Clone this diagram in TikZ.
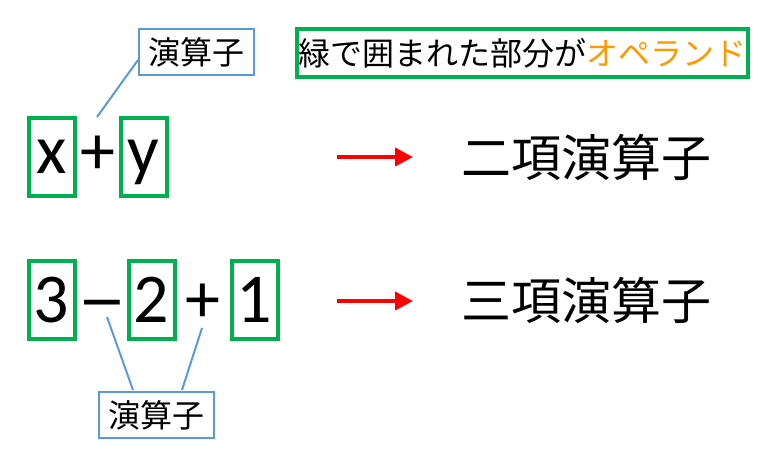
\documentclass[tikz,border=0pt]{standalone}
\usepackage{fontspec}
\setmainfont{Carlito}
\newfontfamily\jpfont{Noto Sans CJK JP}
\newfontfamily\symfont{DejaVu Sans}
\usetikzlibrary{arrows.meta}
\definecolor{opgreen}{HTML}{00B050}
\definecolor{lblue}{HTML}{5B9BD5}
\definecolor{oporange}{HTML}{FF9900}
\begin{document}
\begin{tikzpicture}[x=1pt,y=-1pt,
 operand/.style={draw=opgreen,line width=4pt,minimum width=46pt,minimum height=78pt,inner sep=0pt,font=\fontsize{70}{70}\selectfont},
 opsym/.style={inner sep=0pt,font=\fontsize{70}{70}\selectfont},
 callout/.style={draw=lblue,line width=2pt,minimum width=115pt,minimum height=46pt,inner sep=0pt,font=\jpfont\fontsize{32}{32}\selectfont},
 leader/.style={draw=lblue,line width=2pt},
 result/.style={inner sep=0pt,font=\jpfont\fontsize{50}{50}\selectfont},
 notebox/.style={draw=opgreen,line width=4pt,minimum width=451pt,minimum height=48pt,inner sep=0pt,font=\jpfont\fontsize{32}{32}\selectfont},
 goarrow/.style={draw=red,line width=4pt,-{Triangle[length=18pt,width=18pt]}}]
\path[use as bounding box,fill=white] (0,0) rectangle (766,458);
% first row
\node[operand] (x) at (52,157) {x};
\node[opsym] (plus1) at (98,155) {+};
\node[operand,text depth=0pt] (y) at (143.5,157) {y};
\node[callout] (lab1) at (196,52) {演算子};
\coordinate (l1a) at (138,60);
\coordinate (l1b) at (97,117);
\draw[leader] (l1a) -- (l1b);
% note
\node[notebox] (note) at (522.5,53) {緑で囲まれた部分が\textcolor{oporange}{オペランド}};
% arrows and results
\coordinate (a1s) at (337,157);
\coordinate (a1e) at (413,157);
\draw[goarrow] (a1s) -- (a1e);
\node[result] (r1) at (586,157) {二項演算子};
\coordinate (a2s) at (337,301);
\coordinate (a2e) at (413,301);
\draw[goarrow] (a2s) -- (a2e);
\node[result] (r2) at (586,300) {三項演算子};
% second row
\node[operand] (three) at (51.5,300) {3};
\node[inner sep=0pt,font=\symfont\fontsize{57}{57}\selectfont] (minus) at (102.5,310) {−};
\node[operand] (two) at (151.5,300) {2};
\node[opsym] (plus2) at (202.5,303) {+};
\node[operand] (one) at (254.5,300) {1};
\node[callout] (lab2) at (156.5,415) {演算子};
\coordinate (l2a) at (107,317);
\coordinate (l2b) at (133,390);
\coordinate (l3a) at (202,328);
\coordinate (l3b) at (182,390);
\draw[leader] (l2a) -- (l2b);
\draw[leader] (l3a) -- (l3b);
\end{tikzpicture}
\end{document}
